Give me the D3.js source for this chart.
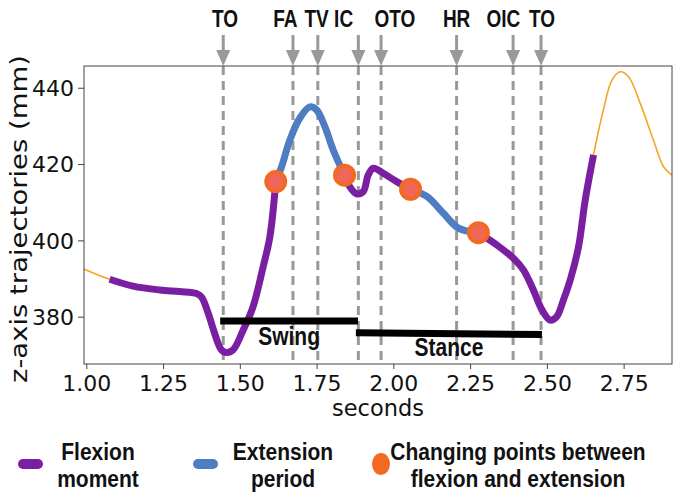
<!DOCTYPE html>
<html>
<head>
<meta charset="utf-8">
<script src="https://cdn.jsdelivr.net/npm/d3@7/dist/d3.min.js"></script>
<style>
  html, body { margin: 0; padding: 0; background: #fff; }
  svg { display: block; }
</style>
</head>
<body>
<div id="chart"></div>
<script>
// ---- Data ----
const times = [0.992, 1.076, 1.152, 1.239, 1.304, 1.359, 1.375, 1.397, 1.418, 1.440, 1.456, 1.478, 1.511, 1.543, 1.576, 1.598, 1.617,
  1.636, 1.663, 1.695, 1.728, 1.750, 1.777, 1.804, 1.841,
  1.858, 1.880, 1.902, 1.918, 1.935, 1.967, 2.011, 2.056,
  2.109, 2.163, 2.212, 2.277,
  2.337, 2.391, 2.424, 2.456, 2.484, 2.511, 2.532, 2.554, 2.576, 2.603, 2.625, 2.652,
  2.684, 2.712, 2.739, 2.766, 2.804, 2.847, 2.880, 2.907];
const zValues = [392.5, 389.8, 388.0, 387.0, 386.6, 386.1, 385.2, 380.9, 375.6, 371.3, 370.6, 371.3, 376.5, 382.6, 393.1, 401.0, 415.4,
  419.3, 426.3, 432.0, 435.0, 434.2, 429.8, 423.7, 417.1,
  414.1, 412.2, 412.8, 417.1, 418.9, 417.6, 415.4, 413.4,
  411.5, 407.1, 403.2, 402.0,
  398.8, 395.3, 392.2, 387.0, 381.8, 379.1, 380.0, 384.4, 389.6, 398.3, 410.6, 422.4,
  434.2, 442.0, 444.2, 442.9, 435.9, 426.3, 419.3, 417.1];

const phaseStart = [1.076, 1.617, 1.841, 2.056, 2.277];
const phaseEnd   = [1.617, 1.841, 2.056, 2.277, 2.652];
const phaseType  = ["flexion", "extension", "flexion", "extension", "flexion"];

const changeTimes = [1.617, 1.841, 2.056, 2.277];
const changeZ     = [415.4, 417.1, 413.4, 402.0];

const eventLabels = ["TO", "FA", "TV", "IC", "OTO", "HR", "OIC", "TO"];
const eventTimes  = [1.446, 1.673, 1.754, 1.886, 1.960, 2.206, 2.390, 2.481];
const labelTimes  = [1.452, 1.648, 1.750, 1.838, 2.005, 2.206, 2.358, 2.484];

const gaitPhases = ["Swing", "Stance"];
const gaitStart  = [1.436, 1.878];
const gaitEnd    = [1.885, 2.484];
const gaitZStart = [378.9, 375.8];
const gaitZEnd   = [378.9, 375.3];

const xTicks = [1.00, 1.25, 1.50, 1.75, 2.00, 2.25, 2.50, 2.75];
const yTicks = [380, 400, 420, 440];

const legendLabels = [["Flexion", "moment"], ["Extension", "period"], ["Changing points between", "flexion and extension"]];

// ---- Styles ----
const W = 685, H = 502;
const M = { left: 84, right: 672, top: 66, bottom: 364 };
const colors = { flexion: "#7b1fa2", extension: "#4f7dc2", traj: "#f5a524", change: "#f26a22", changeFill: "#f0675a", event: "#999999" };
const BOLD = "Liberation Sans, Arial, sans-serif";
const REG = "DejaVu Sans, sans-serif";

const svg = d3.select("#chart").append("svg").attr("width", W).attr("height", H);

const x = d3.scaleLinear().domain([0.9925, 2.9075]).range([M.left, M.right]);
const y = d3.scaleLinear().domain([367.6, 445.7]).range([M.bottom, M.top]);

// text helper with vertical stretch
function txt(px, py, s, opts) {
  const o = Object.assign({ size: 20, family: BOLD, weight: "bold", sy: 1.2, anchor: "middle" }, opts || {});
  return svg.append("text")
    .attr("transform", `translate(${px},${py}) scale(1,${o.sy})`)
    .attr("text-anchor", o.anchor).attr("font-family", o.family).attr("font-weight", o.weight)
    .attr("font-size", o.size).attr("fill", "#111").text(s);
}

const pts = times.map((t, i) => ({ t, z: zValues[i] }));
const line = d3.line().x(d => x(d.t)).y(d => y(d.z)).curve(d3.curveCatmullRom.alpha(0.5));

svg.append("clipPath").attr("id", "clip").append("rect")
  .attr("x", M.left).attr("y", M.top).attr("width", M.right - M.left).attr("height", M.bottom - M.top);

const plot = svg.append("g").attr("clip-path", "url(#clip)");

// full trajectory (thin)
plot.append("path").datum(pts).attr("d", line)
  .attr("fill", "none").attr("stroke", colors.traj).attr("stroke-width", 1.6);

// event dashed lines
eventTimes.forEach(t => {
  plot.append("line").attr("x1", x(t)).attr("x2", x(t)).attr("y1", M.top).attr("y2", M.bottom)
    .attr("stroke", colors.event).attr("stroke-width", 3).attr("stroke-dasharray", "9,6");
});

// phase segments (thick)
phaseStart.forEach((s, i) => {
  const seg = pts.filter(p => p.t >= s - 1e-9 && p.t <= phaseEnd[i] + 1e-9);
  plot.append("path").datum(seg).attr("d", line)
    .attr("fill", "none").attr("stroke", colors[phaseType[i]]).attr("stroke-width", 7)
    .attr("stroke-linecap", "butt").attr("stroke-linejoin", "round");
});

// change points
changeTimes.forEach((t, i) => {
  plot.append("circle").attr("cx", x(t)).attr("cy", y(changeZ[i])).attr("r", 9.5)
    .attr("fill", colors.changeFill).attr("stroke", colors.change).attr("stroke-width", 4);
});

// gait phase bars
gaitPhases.forEach((name, i) => {
  plot.append("line").attr("x1", x(gaitStart[i])).attr("x2", x(gaitEnd[i]))
    .attr("y1", y(gaitZStart[i])).attr("y2", y(gaitZEnd[i]))
    .attr("stroke", "#000").attr("stroke-width", 7);
});
txt(x((gaitStart[0] + gaitEnd[0]) / 2), y(gaitZStart[0]) + 24, gaitPhases[0], { size: 21 });
txt(x((gaitStart[1] + gaitEnd[1]) / 2), y(gaitZStart[1]) + 23, gaitPhases[1], { size: 21 });

// frame
svg.append("rect").attr("x", M.left).attr("y", M.top).attr("width", M.right - M.left).attr("height", M.bottom - M.top)
  .attr("fill", "none").attr("stroke", "#444").attr("stroke-width", 1);

// axes
const xAxis = svg.append("g").attr("transform", `translate(0,${M.bottom})`)
  .call(d3.axisBottom(x).tickValues(xTicks).tickFormat(d3.format(".2f")).tickSize(5).tickPadding(4));
const yAxis = svg.append("g").attr("transform", `translate(${M.left},0)`)
  .call(d3.axisLeft(y).tickValues(yTicks).tickFormat(d3.format("d")).tickSize(6).tickPadding(4));
[xAxis, yAxis].forEach(g => {
  g.select(".domain").remove();
  g.selectAll("line").attr("stroke", "#444");
  g.selectAll("text").attr("font-family", REG).attr("font-size", 22).attr("fill", "#111");
});
xAxis.selectAll("text").attr("dy", "0.8em");
yAxis.selectAll("text").attr("dy", "0.36em");

txt((M.left + M.right) / 2, 416, "seconds", { size: 22.5, family: REG, weight: "normal", sy: 1.05 });
svg.append("text").attr("transform", `translate(27,${(M.top + M.bottom) / 2 + 4}) rotate(-90)`).attr("text-anchor", "middle")
  .attr("font-family", REG).attr("font-size", 23).attr("fill", "#111")
  .attr("textLength", 328).attr("lengthAdjust", "spacingAndGlyphs").text("z-axis trajectories (mm)");

// event arrows and labels
eventTimes.forEach((t, i) => {
  const ax = x(t);
  svg.append("line").attr("x1", ax).attr("x2", ax).attr("y1", 35).attr("y2", 53)
    .attr("stroke", colors.event).attr("stroke-width", 3);
  svg.append("path").attr("d", `M${ax - 7},${50} L${ax + 7},${50} L${ax},${66} Z`).attr("fill", colors.event);
  txt(x(labelTimes[i]), 27, eventLabels[i], { size: 19, sy: 1.28 });
});

// legend
const legX = [30, 205, 381];
const legTextX = [98, 283, 518];
svg.append("rect").attr("x", legX[0] - 12).attr("y", 459).attr("width", 25).attr("height", 10).attr("rx", 5)
  .attr("fill", colors.flexion);
svg.append("rect").attr("x", legX[1] - 12).attr("y", 459).attr("width", 25).attr("height", 10).attr("rx", 5)
  .attr("fill", colors.extension);
svg.append("ellipse").attr("cx", legX[2]).attr("cy", 464).attr("rx", 9).attr("ry", 11).attr("fill", colors.change);
legendLabels.forEach((lines, i) => {
  lines.forEach((s, j) => {
    txt(legTextX[i], 460 + j * 27, s, { size: 21, sy: 1.15 });
  });
});
</script>
</body>
</html>
